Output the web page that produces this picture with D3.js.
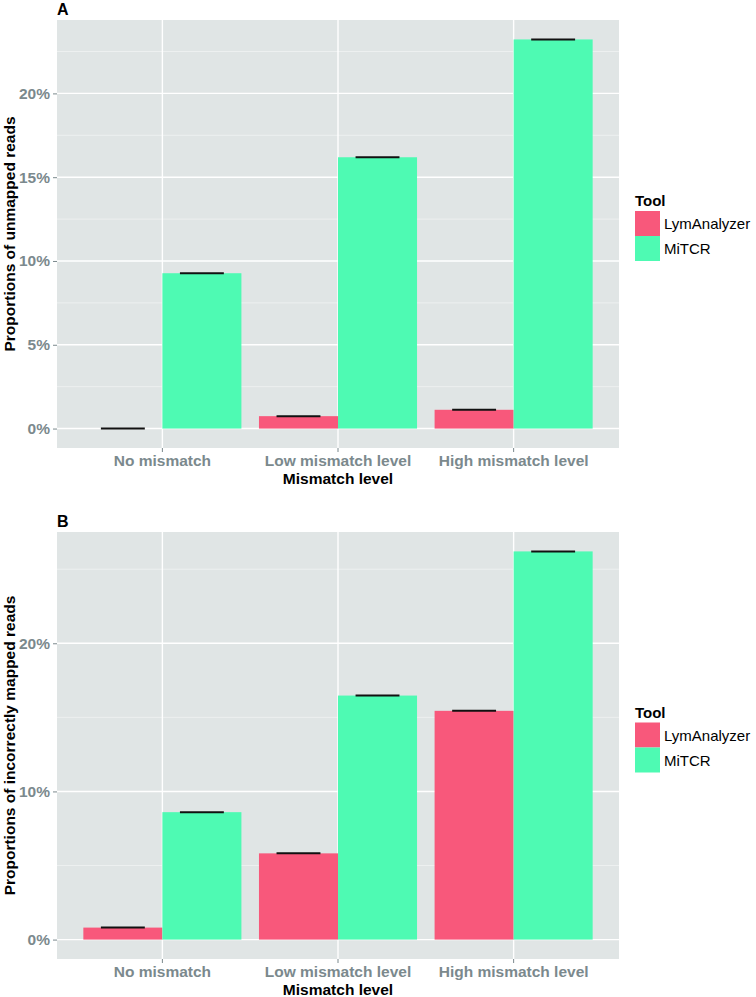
<!DOCTYPE html>
<html>
<head>
<meta charset="utf-8">
<script src="https://cdn.jsdelivr.net/npm/d3@7"></script>
<style>
  html, body { margin: 0; padding: 0; background: #ffffff; }
  svg { display: block; font-family: "Liberation Sans", Arial, Helvetica, sans-serif; }
</style>
</head>
<body>
<svg id="chart" width="756" height="997"></svg>
<script>
// ---- data ----
const categories = ["No mismatch", "Low mismatch level", "High mismatch level"];
const tools = ["LymAnalyzer", "MiTCR"];
const toolColors = ["#F8587B", "#4EFAB3"];

// Panel A: proportions of unmapped reads (%)
const unmappedLym = [0.0, 0.74, 1.12];
const unmappedMiTCR = [9.27, 16.19, 23.22];
const ticksA = [0, 5, 10, 15, 20];
const minorA = [2.5, 7.5, 12.5, 17.5, 22.5];
const domainA = [-1.16, 24.38];

// Panel B: proportions of incorrectly mapped reads (%)
const incorrectLym = [0.81, 5.82, 15.44];
const incorrectMiTCR = [8.6, 16.47, 26.2];
const ticksB = [0, 10, 20];
const minorB = [5, 15, 25];
const domainB = [-1.31, 27.51];

const svg = d3.select("#chart");
const gridBg = "#E0E5E5";
const tickColor = "#7B898D";

function drawPanel(opts) {
  const { top, bottom, left, right, letter, yTitle, lym, mitcr, ticks, minor, domain } = opts;
  const g = svg.append("g");

  const x = d3.scaleBand().domain(categories).range([left, right]).paddingInner(0.1).paddingOuter(0.15);
  const xSub = d3.scaleBand().domain(tools).range([0, x.bandwidth()]);
  const y = d3.scaleLinear().domain(domain).range([bottom, top]);

  // background
  g.append("rect").attr("x", left).attr("y", top).attr("width", right - left).attr("height", bottom - top).attr("fill", gridBg);

  // minor grid
  g.selectAll(".minor").data(minor).enter().append("line")
    .attr("x1", left).attr("x2", right)
    .attr("y1", d => y(d)).attr("y2", d => y(d))
    .attr("stroke", "#ffffff").attr("stroke-opacity", 0.55).attr("stroke-width", 0.8);
  // major grid
  g.selectAll(".major").data(ticks).enter().append("line")
    .attr("x1", left).attr("x2", right)
    .attr("y1", d => y(d)).attr("y2", d => y(d))
    .attr("stroke", "#ffffff").attr("stroke-width", 1.4);
  g.selectAll(".vmajor").data(categories).enter().append("line")
    .attr("x1", d => x(d) + x.bandwidth() / 2).attr("x2", d => x(d) + x.bandwidth() / 2)
    .attr("y1", top).attr("y2", bottom)
    .attr("stroke", "#ffffff").attr("stroke-width", 1.4);

  // bars
  const rows = [];
  categories.forEach((c, i) => {
    rows.push({ cat: c, tool: tools[0], v: lym[i], color: toolColors[0] });
    rows.push({ cat: c, tool: tools[1], v: mitcr[i], color: toolColors[1] });
  });
  g.selectAll(".bar").data(rows).enter().append("rect")
    .attr("x", d => x(d.cat) + xSub(d.tool))
    .attr("width", xSub.bandwidth())
    .attr("y", d => y(Math.max(0, d.v)))
    .attr("height", d => Math.abs(y(d.v) - y(0)))
    .attr("fill", d => d.color);

  // error bars (zero-height caps)
  const capW = x.step() * 0.25;
  g.selectAll(".err").data(rows).enter().append("line")
    .attr("x1", d => x(d.cat) + xSub(d.tool) + xSub.bandwidth() / 2 - capW / 2)
    .attr("x2", d => x(d.cat) + xSub(d.tool) + xSub.bandwidth() / 2 + capW / 2)
    .attr("y1", d => y(d.v)).attr("y2", d => y(d.v))
    .attr("stroke", "#111111").attr("stroke-width", 2);

  // y axis
  const yAxis = d3.axisLeft(y).tickValues(ticks).tickSize(4).tickPadding(3).tickFormat(d => d + "%");
  const ya = g.append("g").attr("transform", `translate(${left},0)`).call(yAxis);
  ya.select(".domain").remove();
  ya.selectAll(".tick line").attr("stroke", tickColor).attr("stroke-width", 1);
  ya.selectAll(".tick text").attr("fill", tickColor).attr("font-size", "15.5px").attr("font-weight", "bold")
    .attr("font-family", "'Liberation Sans', Arial, sans-serif");

  // x axis
  const xAxis = d3.axisBottom(x).tickSize(4).tickPadding(3);
  const xa = g.append("g").attr("transform", `translate(0,${bottom})`).call(xAxis);
  xa.select(".domain").remove();
  xa.selectAll(".tick line").attr("stroke", tickColor).attr("stroke-width", 1);
  xa.selectAll(".tick text").attr("fill", tickColor).attr("font-size", "15.5px").attr("font-weight", "bold")
    .attr("font-family", "'Liberation Sans', Arial, sans-serif");

  // axis titles
  g.append("text").attr("x", (left + right) / 2).attr("y", bottom + 35.5)
    .attr("text-anchor", "middle").attr("font-size", "15.5px").attr("font-weight", "bold").attr("fill", "#000")
    .text("Mismatch level");
  g.append("text")
    .attr("transform", `translate(14.5,${(top + bottom) / 2}) rotate(-90)`)
    .attr("text-anchor", "middle").attr("font-size", "15.5px").attr("font-weight", "bold").attr("fill", "#000")
    .text(yTitle);

  // panel letter
  g.append("text").attr("x", left).attr("y", top - 5)
    .attr("font-size", "16px").attr("font-weight", "bold").attr("fill", "#000").text(letter);

  // legend
  const mid = (top + bottom) / 2;
  const lg = g.append("g").attr("transform", `translate(635,${mid - 28})`);
  lg.append("text").attr("x", 0).attr("y", 0).attr("font-size", "15px").attr("font-weight", "bold").attr("fill", "#000").text("Tool");
  tools.forEach((t, i) => {
    lg.append("rect").attr("x", 0).attr("y", 5 + i * 25).attr("width", 25).attr("height", 25).attr("fill", toolColors[i]);
    lg.append("text").attr("x", 29).attr("y", 5 + i * 25 + 18).attr("font-size", "15px").attr("fill", "#000").text(t);
  });
}

drawPanel({ top: 20, bottom: 448, left: 57, right: 619, letter: "A",
  yTitle: "Proportions of unmapped reads", lym: unmappedLym, mitcr: unmappedMiTCR,
  ticks: ticksA, minor: minorA, domain: domainA });

drawPanel({ top: 532, bottom: 959, left: 57, right: 619, letter: "B",
  yTitle: "Proportions of incorrectly mapped reads", lym: incorrectLym, mitcr: incorrectMiTCR,
  ticks: ticksB, minor: minorB, domain: domainB });
</script>
</body>
</html>
